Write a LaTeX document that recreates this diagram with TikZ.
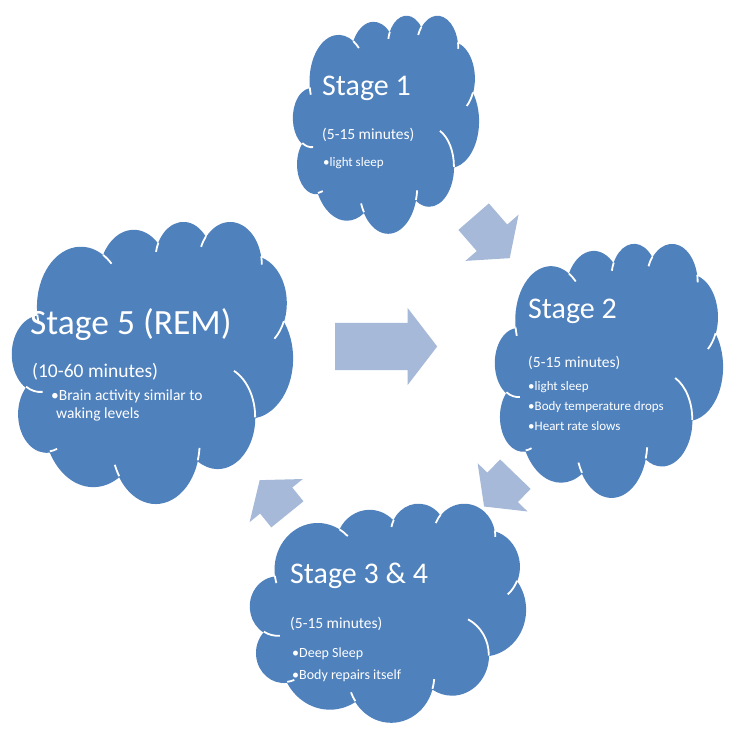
\documentclass[tikz,border=0pt]{standalone}
\usepackage{fontspec}
\setmainfont{Carlito}
\usetikzlibrary{shapes.arrows}
\definecolor{cloudblue}{RGB}{79,129,189}
\definecolor{arrowblue}{RGB}{167,185,216}

\newcommand{\carc}[4]{arc[x radius=#1, y radius=#2, start angle={vis(#3,#1,#2)}, end angle={vis((#3+#4),#1,#2)}]}

\newcommand{\stagecloud}[5]{%
\pgfmathsetmacro\cloudw{#4/432}%
\pgfmathsetmacro\cloudh{#5/432}%
\begin{scope}[shift={(#2,#3)}, x=\cloudw pt, y=-\cloudh pt]
\coordinate (#1) at (216,216);
\fill[cloudblue] (39.00,143.70) \carc{67.53}{91.90}{-190.4875}{123.7805}
  \carc{53.33}{72.67}{-144.1024}{89.9452}
  \carc{43.65}{59.45}{-145.8079}{99.7230}
  \carc{48.57}{65.95}{-130.9861}{117.2417}
  \carc{53.33}{72.73}{-78.7089}{109.0269}
  \carc{67.75}{92.20}{-46.2673}{130.2690}
  \carc{57.85}{78.67}{0.6250}{114.0333}
  \carc{67.52}{92.15}{22.4516}{115.1726}
  \carc{77.20}{105.43}{66.2426}{75.7110}
  \carc{43.60}{59.18}{-274.9421}{146.7356}
  \carc{43.45}{59.45}{-246.8285}{152.5189} -- cycle;
\draw[cloudline] (46.93,261.77) \carc{43.45}{59.45}{86.7420}{26.4295}
  (69.28,348.99) \carc{43.60}{59.18}{73.6105}{11.4475}
  (164.78,390.90) \carc{67.52}{92.15}{137.6242}{14.0811}
  (288.27,347.51) \carc{67.52}{92.15}{6.4533}{15.9984}
  (341.29,229.54) \carc{57.85}{78.67}{-70.2924}{70.9174}
  (417.98,153.54) \carc{53.33}{72.73}{30.3180}{27.7515}
  (383.24,54.26) \carc{48.57}{65.95}{-13.7443}{14.8589}
  (290.78,39.52) \carc{48.57}{65.95}{-149.1815}{18.1954}
  (221.41,47.20) \carc{43.65}{59.45}{-163.4943}{17.6864}
  (140.00,51.92) \carc{67.53}{91.90}{-66.7070}{12.3194}
  (41.27,157.89) \carc{67.53}{91.90}{157.6544}{11.8582};
\end{scope}}

\begin{document}
\begin{tikzpicture}[x=1pt,y=-1pt,
  declare function={vis(\a,\p,\q)=(\a)+mod(atan2((\p)*sin(\a),(\q)*cos(\a))-(\a)+540,360)-180;},
  cloudline/.style={white,line width=1.8pt},
  stagetitle/.style={anchor=base west,inner sep=0pt,text=white,font=\fontsize{30}{36}\selectfont},
  stagetime/.style={anchor=base west,inner sep=0pt,text=white,font=\fontsize{15.5}{18}\selectfont},
  stagebullet/.style={anchor=base west,inner sep=0pt,text=white,font=\fontsize{13}{15}\selectfont},
  blockarrow/.style={single arrow,fill=arrowblue,inner xsep=0pt,single arrow tip angle=105,anchor=tail}]
\fill[white] (0,0) rectangle (750,750);
\useasboundingbox (0,0) rectangle (750,750);

\stagecloud{stage1}{293}{15}{186}{218}
\stagecloud{stage2}{495}{243}{228}{254}
\stagecloud{stage34}{250}{503}{276}{219}
\stagecloud{stage5}{12}{221}{281}{282}

\node[stagetitle] (stage1title) at (322,95) {Stage 1};
\node[stagetime] (stage1time) at (322,139) {(5-15 minutes)};
\node[stagebullet] (stage1b1) at (323,166) {•light sleep};

\node[stagetitle] (stage2title) at (528,318) {Stage 2};
\node[stagetime] (stage2time) at (528,367) {(5-15 minutes)};
\node[stagebullet] (stage2b1) at (528,390) {•light sleep};
\node[stagebullet] (stage2b2) at (528,410) {•Body temperature drops};
\node[stagebullet] (stage2b3) at (528,430) {•Heart rate slows};

\node[stagetitle] (stage34title) at (290,583) {Stage 3 \& 4};
\node[stagetime] (stage34time) at (290,628) {(5-15 minutes)};
\node[stagebullet,font=\fontsize{14}{16}\selectfont] (stage34b1) at (292,657) {•Deep Sleep};
\node[stagebullet,font=\fontsize{14}{16}\selectfont] (stage34b2) at (292,679) {•Body repairs itself};

\node[stagetitle,font=\fontsize{35.5}{40}\selectfont] (stage5title) at (30,334) {Stage 5 (REM)};
\node[stagetime,font=\fontsize{19.5}{22}\selectfont] (stage5time) at (32,377) {(10-60 minutes)};
\node[stagebullet,font=\fontsize{15.5}{18}\selectfont] (stage5b1) at (51,400) {•Brain activity similar to};
\node[stagebullet,font=\fontsize{15.5}{18}\selectfont] (stage5b1b) at (56,418) {waking levels};

\node[blockarrow,minimum height=102pt,inner ysep=23.5pt,single arrow head extend=15pt] (arr52) at (335,346.5) {};
\node[blockarrow,minimum height=55pt,inner ysep=20pt,single arrow head extend=15pt,rotate=-49] (arr12) at (473.5,216.5) {};
\node[blockarrow,minimum height=45pt,inner ysep=21pt,single arrow head extend=13.5pt,rotate=-134] (arr234) at (515.5,474) {};
\node[blockarrow,minimum height=44pt,inner ysep=20.5pt,single arrow head extend=13.5pt,rotate=129] (arr345) at (287.5,514.5) {};
\end{tikzpicture}
\end{document}
